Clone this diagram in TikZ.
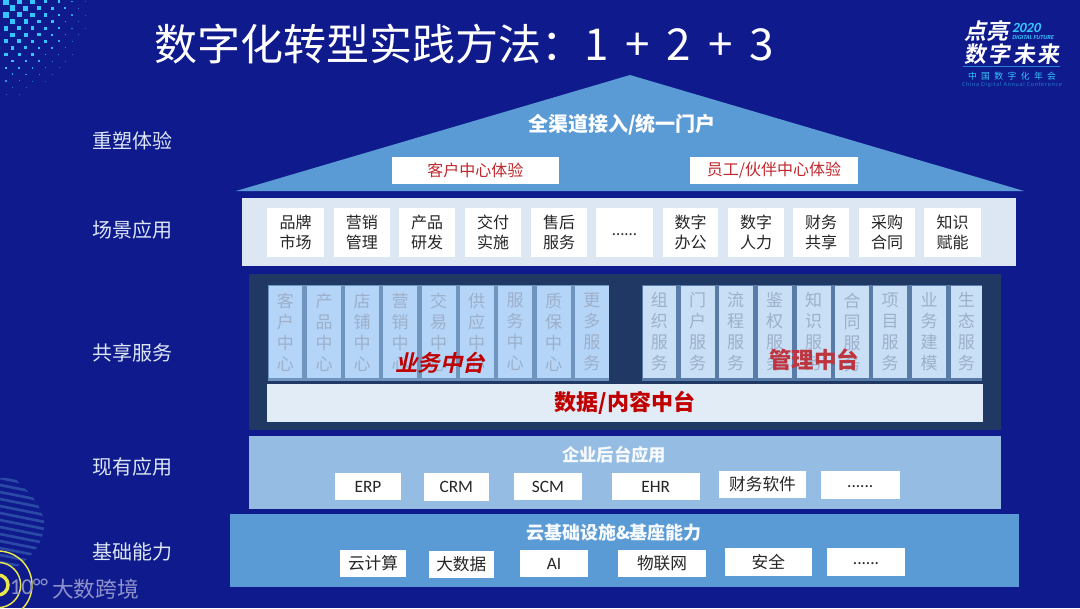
\documentclass[tikz,border=0pt]{standalone}
\usepackage{fontspec}
\setmainfont{Noto Sans CJK SC}
\newfontfamily\lat{Carlito}
\newfontfamily\cjkit[FakeSlant=0.22]{Noto Sans CJK SC Bold}
\newfontfamily\cjksp[LetterSpace=50]{Noto Sans CJK SC}
\newfontfamily\cjklg[FakeSlant=0.15,LetterSpace=10]{Noto Sans CJK SC Bold}
\newfontfamily\latit[FakeSlant=0.2]{Carlito Bold}
\newfontfamily\latsp[LetterSpace=12]{Carlito}
\definecolor{bg}{HTML}{0F1A8C}
\definecolor{roof}{HTML}{5B9BD5}
\definecolor{scene}{HTML}{DDE7F3}
\definecolor{dark}{HTML}{1F3864}
\definecolor{databar}{HTML}{E2ECF6}
\definecolor{app}{HTML}{95BDE3}
\definecolor{bakl}{HTML}{6F94BE}
\definecolor{bakr}{HTML}{587BA8}
\definecolor{celll}{HTML}{B4D4F8}
\definecolor{cellr}{HTML}{C9DFF6}
\definecolor{celltxt}{HTML}{9DB0CA}
\definecolor{lbl}{HTML}{DDE6F5}
\definecolor{redt}{HTML}{C0282D}
\definecolor{rednew}{HTML}{C00000}
\definecolor{cy}{HTML}{35C6FF}
\definecolor{yel}{HTML}{E8E84A}
\definecolor{wm}{HTML}{8D92CC}
\definecolor{leaf}{HTML}{2A4AA6}
\newcommand\dotsrow{\raisebox{-4.5pt}{......}}
\tikzset{
 cellbase/.style={inner sep=0pt,outer sep=0pt,align=center},
 wbox/.style={cellbase,fill=white,text=black!85},
 lblt/.style={cellbase,text=lbl,font=\fontsize{15}{18}\selectfont},
 slimL/.style={cellbase,fill=celll,text=celltxt,font=\fontsize{12.75}{15.75}\selectfont},
 slimR/.style={cellbase,fill=cellr,text=celltxt,font=\fontsize{12.75}{15.75}\selectfont},
 scen/.style={wbox,font=\fontsize{12}{14.5}\selectfont},
 appb/.style={wbox,font=\fontsize{12.5}{15}\selectfont},
 appl/.style={wbox,font=\lat\fontsize{13}{15}\selectfont},
 redb/.style={cellbase,fill=white,text=redt,font=\fontsize{12}{15}\selectfont},
 head/.style={cellbase,text=white!92!app,font=\bfseries\fontsize{13}{15}\selectfont},
}
\newcommand\pnl[7]{\node[#1,minimum width={(#4-#3)*0.75pt},minimum height={(#6-#5)*0.75pt}] (#2) at ({(#3+#4)/2},{(#5+#6)/2}) {#7};}
\begin{document}
\begin{tikzpicture}[x=0.75pt,y=-0.75pt]
\path[use as bounding box,fill=bg] (0,0) rectangle (1080,608);
% halftone corner
\foreach \r in {0,...,16}{\foreach \c in {0,...,7}{
 \pgfmathsetmacro\xx{6+13.2*\c+6.6*mod(\r,2)}
 \pgfmathsetmacro\yy{1.7+6.6*\r}
 \pgfmathsetmacro\dd{sqrt((\xx/92)^2+(\yy/100)^2)}
 \ifdim\dd pt<0.97pt
  \pgfmathsetmacro\ss{max(0.6,6.8*(1-\dd))/2}
  \pgfmathsetmacro\oo{min(1,(1-\dd)*2.2+0.3)}
  \fill[cy,opacity=\oo] (\xx-\ss,\yy-\ss) rectangle (\xx+\ss,\yy+\ss);
 \fi
}}
% leaf
\begin{scope}
\clip (14,478) .. controls (30,492) and (46,510) .. (44,528) .. controls (42,545) and (30,558) .. (18,566) -- (-5,566) -- (-5,478) -- cycle;
\foreach \i in {0,...,14}{\draw[leaf,line width=2pt] (-5,{470+7*\i}) -- (50,{481+7*\i});}
\end{scope}
% rings
\draw[yel,line width=1.1pt] (-2,585) circle[radius=25.5pt];
\draw[yel,line width=1.1pt] (-2,585) circle[radius=17pt];
\draw[yel,line width=2.6pt] (-2,585) circle[radius=7.5pt];
\node[cellbase,text=wm,font=\lat\fontsize{17}{18}\selectfont] (wmlogo) at (29,587) {10°°};
\node[cellbase,text=wm,font=\fontsize{16.3}{18}\selectfont] (wmtext) at (95.5,589) {大数跨境};
% title
\node[cellbase,anchor=west,text=white,font=\fontsize{32.25}{36}\selectfont] (title) at (154,44) {数字化转型实践方法：{\fontsize{33}{36}\selectfont 1\hspace{12.75pt}+\hspace{12.75pt}2\hspace{12.75pt}+\hspace{12.75pt}3}};
% logo
\node[cellbase,text=white,font=\cjkit\fontsize{16.5}{18}\selectfont] (lg1) at (986,31) {点亮};
\node[cellbase,anchor=west,text=cy,font=\latit\fontsize{10.5}{11}\selectfont] (lg2) at (1012,28) {2020};
\node[cellbase,anchor=west,text=cy,font=\latit\fontsize{4.6}{5}\selectfont] (lg3) at (1012,38) {DIGITAL FUTURE};
\node[cellbase,text=white,font=\cjklg\fontsize{16.5}{18}\selectfont] (lg4) at (1012,54) {数字未来};
\draw[cy!60!bg,line width=0.6pt] (963,66) -- (1060,66);
\node[cellbase,text=cy,font=\cjksp\fontsize{6.6}{8}\selectfont] (lg5) at (1012,76) {中国数字化年会};
\node[cellbase,text=cy!55!bg,font=\latsp\fontsize{4.6}{5}\selectfont] (lg6) at (1012,85) {China Digital Annual Conference};
% left labels
\node[lblt] (l1) at (132,141) {重塑体验};
\node[lblt] (l2) at (132,230) {场景应用};
\node[lblt] (l3) at (132,353) {共享服务};
\node[lblt] (l4) at (132,467) {现有应用};
\node[lblt] (l5) at (132,552) {基础能力};
% roof
\fill[roof] (630,75) -- (1024,191) -- (236,191) -- cycle;
\node[cellbase,text=white,font=\bfseries\fontsize{15}{18}\selectfont] (roofhead) at (622,125) {全渠道接入/统一门户};
\pnl{redb}{cust}{392}{558.5}{157}{184}{客户中心体验}
\pnl{redb}{staff}{690}{858}{157}{184}{员工/伙伴中心体验}
% scenario row
\pnl{cellbase,fill=scene}{scenep}{242}{1016}{198}{266}{}
\pnl{scen}{s1}{267}{324}{208}{257}{品牌\\市场}
\pnl{scen}{s2}{333.5}{390}{208}{257}{营销\\管理}
\pnl{scen}{s3}{399}{455}{208}{257}{产品\\研发}
\pnl{scen}{s4}{465}{521}{208}{257}{交付\\实施}
\pnl{scen}{s5}{531}{587}{208}{257}{售后\\服务}
\pnl{scen,font=\lat\fontsize{12.5}{15}\selectfont}{s6}{596}{653}{208}{257}{\dotsrow}
\pnl{scen}{s7}{663}{718}{208}{257}{数字\\办公}
\pnl{scen}{s8}{728}{784}{208}{257}{数字\\人力}
\pnl{scen}{s9}{793}{849}{208}{257}{财务\\共享}
\pnl{scen}{s10}{859}{915}{208}{257}{采购\\合同}
\pnl{scen}{s11}{924}{981}{208}{257}{知识\\赋能}
% shared services
\pnl{cellbase,fill=dark}{darkp}{249}{1001}{274}{430}{}
\pnl{cellbase,fill=bakl}{bakL}{268}{609}{285}{381}{}
\pnl{cellbase,fill=bakr}{bakR}{642}{982}{285}{381}{}
\pnl{slimL}{a1}{268.5}{302}{286}{378}{客\\户\\中\\心}
\pnl{slimL}{a2}{307}{341}{286}{378}{产\\品\\中\\心}
\pnl{slimL}{a3}{345}{379}{286}{378}{店\\铺\\中\\心}
\pnl{slimL}{a4}{383}{417}{286}{378}{营\\销\\中\\心}
\pnl{slimL}{a5}{421.5}{455.5}{286}{378}{交\\易\\中\\心}
\pnl{slimL}{a6}{459.5}{493.5}{286}{378}{供\\应\\中\\心}
\pnl{slimL}{a7}{498}{532}{286}{378}{服\\务\\中\\心}
\pnl{slimL}{a8}{536.5}{570.5}{286}{378}{质\\保\\中\\心}
\pnl{slimL}{a9}{574.5}{609}{286}{378}{更\\多\\服\\务}
\pnl{slimR}{b1}{642.5}{676}{286}{378}{组\\织\\服\\务}
\pnl{slimR}{b2}{680.5}{714.5}{286}{378}{门\\户\\服\\务}
\pnl{slimR}{b3}{718.5}{752.5}{286}{378}{流\\程\\服\\务}
\pnl{slimR}{b4}{757.5}{791.5}{286}{378}{鉴\\权\\服\\务}
\pnl{slimR}{b5}{796.5}{830.5}{286}{378}{知\\识\\服\\务}
\pnl{slimR}{b6}{835}{869}{286}{378}{合\\同\\服\\务}
\pnl{slimR}{b7}{873}{907}{286}{378}{项\\目\\服\\务}
\pnl{slimR}{b8}{912}{946}{286}{378}{业\\务\\建\\模}
\pnl{slimR}{b9}{950.5}{982}{286}{378}{生\\态\\服\\务}
\node[cellbase,text=rednew,font=\cjkit\fontsize{16.8}{18}\selectfont] (mid1) at (440,363) {业务中台};
\node[cellbase,text=rednew!75!celll,font=\bfseries\fontsize{16.8}{18}\selectfont] (mid2) at (814,360) {管理中台};
\pnl{cellbase,fill=databar,text=rednew,font=\bfseries\fontsize{16.5}{18}\selectfont}{data}{267}{983}{384}{422}{数据/内容中台}
% existing applications
\pnl{cellbase,fill=app}{appp}{249}{1000.5}{436}{509}{}
\node[head] (apphead) at (614,455) {企业后台应用};
\pnl{appl}{e1}{335}{401}{473}{500}{ERP}
\pnl{appl}{e2}{423.5}{489}{473}{500.5}{CRM}
\pnl{appl}{e3}{514}{582}{473}{500}{SCM}
\pnl{appl}{e4}{612}{699.5}{473}{500}{EHR}
\pnl{appb}{e5}{719}{806}{471}{498}{财务软件}
\pnl{appl}{e6}{821}{899.5}{471}{499}{\dotsrow}
% base
\pnl{cellbase,fill=roof}{basep}{230}{1019}{514}{587}{}
\node[head,font=\bfseries\fontsize{13.5}{15}\selectfont] (basehead) at (614,533) {云基础设施\&基座能力};
\pnl{appb}{f1}{340}{406}{550}{577}{云计算}
\pnl{appb}{f2}{428.5}{494}{551}{577.5}{大数据}
\pnl{appl}{f3}{520}{588}{550}{577}{AI}
\pnl{appb}{f4}{618}{706}{550}{577}{物联网}
\pnl{appb}{f5}{724.5}{812}{548}{576}{安全}
\pnl{appl}{f6}{827}{905}{548}{576}{\dotsrow}
\end{tikzpicture}
\end{document}
